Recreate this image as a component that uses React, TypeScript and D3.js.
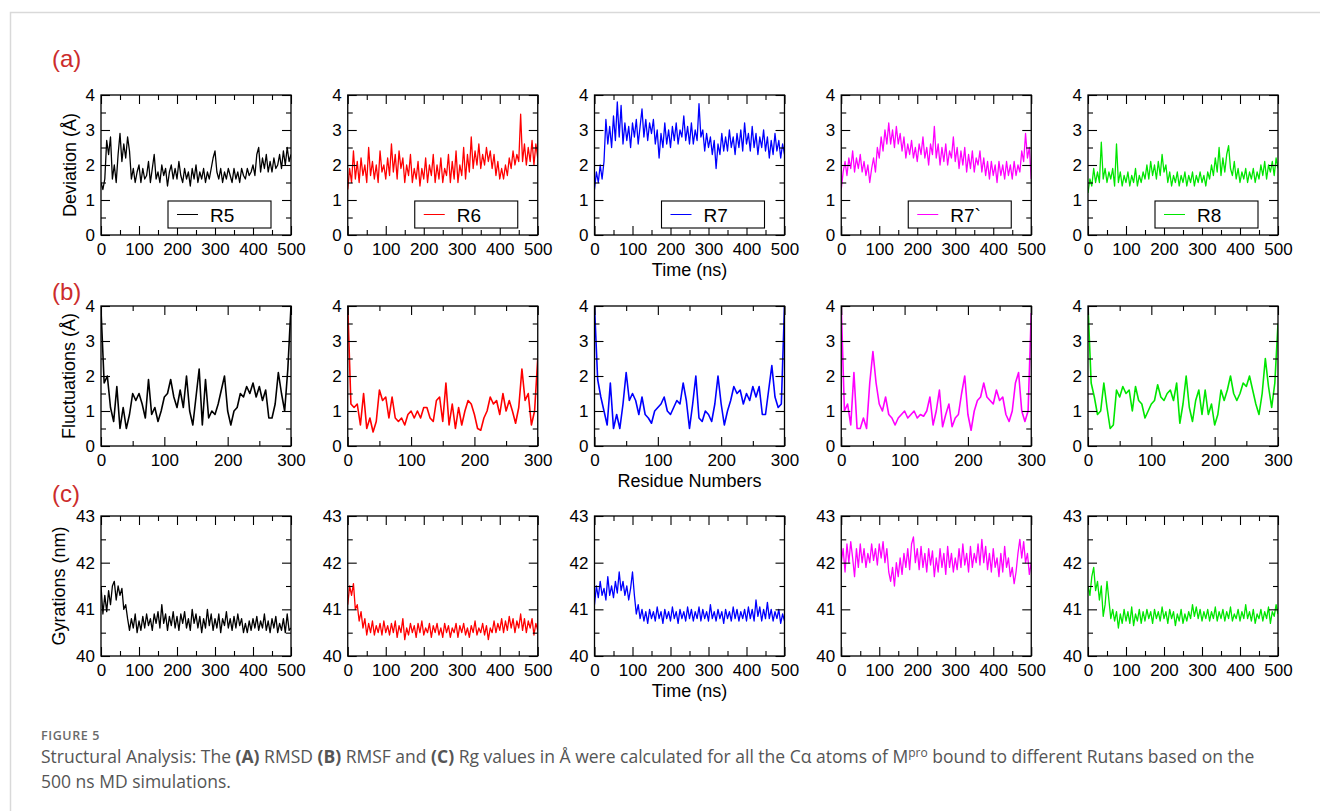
import * as d3 from "d3";
import React, { useEffect, useRef } from "react";

const ligands = ["R5", "R6", "R7", "R7`", "R8"];
const colors = ["#000000", "#ff0000", "#0000ff", "#ff00ff", "#00e600"];

// RMSD (Å), one value every 5 ns, 0..500 ns
const rmsdR5 = [
  1.5, 1.3, 1.6, 2.7, 2.3, 2.8, 1.6, 2.0, 1.5, 2.3,
  2.9, 2.1, 2.6, 2.2, 2.8, 2.4, 1.6, 1.9, 1.5, 1.8,
  2.0, 1.5, 1.9, 1.6, 1.7, 2.1, 1.5, 1.9, 2.3, 1.6,
  1.8, 1.5, 2.0, 1.7, 1.9, 1.4, 1.8, 2.0, 1.6, 1.9,
  1.6, 2.1, 1.7, 1.5, 1.9, 1.6, 1.8, 1.4, 1.9, 1.6,
  2.0, 1.5, 1.8, 1.6, 1.9, 1.5, 1.8, 1.6, 1.9, 2.2,
  2.4, 1.8, 1.6, 1.9, 1.5, 1.8, 1.6, 1.9, 1.7, 1.5,
  1.9, 1.6, 1.8, 1.5, 1.9, 1.7, 1.6, 1.9, 1.7, 1.8,
  2.0, 1.7, 2.3, 2.5, 1.8, 2.2, 1.9, 2.3, 1.8, 2.1,
  1.8, 2.2, 1.9, 2.0, 2.3, 1.9, 2.4, 2.0, 2.5, 2.1,
  2.3,
];
const rmsdR6 = [
  1.3, 1.9, 1.5, 2.4, 1.6, 2.1, 1.5, 2.2, 1.7, 2.0,
  1.5, 2.5, 1.7, 2.1, 1.6, 2.0, 1.5, 2.4, 1.8, 2.0,
  1.6, 2.2, 1.7, 2.6, 1.8, 2.3, 1.6, 2.4, 1.9, 2.2,
  1.5, 2.0, 1.7, 2.3, 1.5, 1.9, 1.6, 2.1, 1.4, 1.9,
  1.6, 2.2, 1.5, 2.0, 1.7, 2.3, 1.5, 2.0, 1.6, 2.2,
  1.5, 1.9, 1.7, 2.3, 1.5, 2.1, 1.6, 2.4, 1.5, 2.0,
  1.7, 2.5, 1.6, 2.3, 1.8, 2.8, 1.9, 2.4, 2.0, 2.6,
  1.9, 2.3, 2.0, 2.5, 2.1, 2.4, 1.9, 2.3, 1.7, 2.1,
  1.6, 1.9, 1.6, 2.0, 1.7, 2.2, 1.9, 2.4, 2.0, 2.3,
  2.1, 3.45, 2.1, 2.6, 2.0, 2.5, 2.1, 2.7, 2.0, 2.6,
  2.2,
];
const rmsdR7 = [
  1.3, 1.8, 1.5, 2.0, 1.6, 2.1, 3.3, 2.6, 3.1, 2.5,
  3.4, 2.7, 3.8, 2.8, 3.7, 2.6, 3.2, 2.7, 3.1, 2.5,
  3.2, 2.8, 3.3, 2.6, 3.1, 3.6, 2.8, 3.3, 2.7, 3.2,
  2.9, 3.3, 2.6, 3.0, 2.2, 2.9, 2.5, 3.2, 2.6, 3.0,
  2.5, 3.1, 2.7, 3.2, 2.6, 3.0, 2.8, 3.4, 2.7, 3.1,
  2.6, 3.2, 2.6, 3.0, 2.7, 3.75, 2.8, 3.0, 2.4, 2.9,
  2.5, 2.8, 2.3, 2.7, 1.9, 2.6, 2.3, 2.9, 2.4, 2.8,
  2.4, 3.0, 2.5, 2.8, 2.3, 2.9, 2.5, 3.0, 2.4, 3.2,
  2.6, 2.9, 2.4, 3.1, 2.5, 2.9, 2.3, 2.8, 2.5, 3.0,
  2.4, 2.8, 2.2, 2.7, 2.3, 2.9, 2.4, 2.7, 2.2, 2.6,
  2.3,
];
const rmsdR7b = [
  1.3, 1.8, 2.1, 1.7, 2.2, 1.9, 2.4, 1.8, 2.2, 1.9,
  2.3, 1.8, 2.1, 1.7, 2.0, 1.5, 1.9, 2.2, 1.8, 2.5,
  2.2, 2.8, 2.4, 3.0, 2.6, 3.2, 2.6, 3.0, 2.5, 3.1,
  2.6, 2.9, 2.4, 2.8, 2.2, 2.6, 2.3, 2.7, 2.2, 2.5,
  2.1, 2.6, 2.3, 2.8, 2.2, 2.5, 2.0, 2.6, 2.3, 3.1,
  2.2, 2.6, 2.0, 2.5, 2.1, 2.6, 2.0, 2.4, 2.2, 2.8,
  2.1, 2.5, 1.9, 2.4, 2.0, 2.5, 1.8, 2.3, 1.9, 2.4,
  1.8, 2.2, 2.0, 2.4, 1.8, 2.2, 1.7, 2.1, 1.6, 2.1,
  1.7, 2.0, 1.5, 2.1, 1.7, 2.0, 1.6, 2.1, 1.7, 2.0,
  1.6, 2.1, 1.7, 2.0, 1.8, 2.4, 2.1, 2.9, 2.2, 2.5,
  1.6,
];
const rmsdR8 = [
  1.2, 1.6, 1.4, 1.9, 1.5, 1.8, 1.5, 2.65, 1.6, 1.9,
  1.5, 1.8, 1.6, 1.9, 1.4, 2.6, 1.5, 1.8, 1.4, 1.7,
  1.5, 1.8, 1.4, 1.7, 1.5, 1.9, 1.4, 1.7, 1.5, 1.8,
  1.6, 2.0, 1.6, 2.1, 1.7, 2.0, 1.6, 2.1, 1.7, 2.3,
  1.8, 2.0, 1.5, 1.8, 1.4, 1.7, 1.5, 1.8, 1.4, 1.7,
  1.5, 1.8, 1.4, 1.7, 1.5, 1.8, 1.4, 1.7, 1.5, 1.8,
  1.5, 1.7, 1.4, 1.8, 1.6, 2.0, 1.7, 2.2, 1.8, 2.5,
  1.7, 2.2, 1.8, 2.3, 2.55, 1.9, 1.7, 2.1, 1.6, 1.9,
  1.5, 1.8, 1.6, 1.9, 1.5, 1.8, 1.6, 1.9, 1.5, 1.8,
  1.6, 2.0, 1.7, 2.1, 1.6, 2.0, 1.8, 2.1, 1.7, 2.2,
  1.9,
];

// RMSF (Å), one value every 5 residues, 0..300
const rmsfR5 = [
  3.9, 1.8, 2.0, 1.1, 0.7, 1.7, 0.5, 1.1, 0.5, 0.9,
  1.5, 1.3, 1.5, 1.2, 0.8, 1.9, 0.9, 1.1, 0.7, 1.0,
  1.4, 1.5, 1.9, 1.4, 1.1, 1.6, 1.1, 2.0, 1.0, 0.6,
  1.4, 2.2, 0.6, 1.9, 0.8, 1.0, 0.9, 1.2, 1.6, 2.0,
  1.0, 0.6, 1.0, 1.1, 1.5, 1.4, 1.7, 1.5, 1.8, 1.4,
  1.7, 1.3, 1.6, 0.8, 0.8, 1.2, 2.1, 1.5, 1.0, 2.2,
  4.0,
];
const rmsfR6 = [
  4.0, 1.2, 1.1, 1.2, 0.6, 1.5, 0.5, 0.8, 0.4, 0.7,
  1.6, 1.3, 1.4, 0.8, 1.4, 0.8, 0.7, 0.8, 0.6, 0.9,
  1.0, 0.8, 1.0, 0.8, 1.1, 1.1, 0.8, 0.7, 1.3, 1.4,
  0.7, 1.8, 0.6, 1.2, 0.5, 1.1, 0.6, 1.0, 1.3, 1.2,
  0.9, 0.5, 0.45, 0.8, 1.0, 1.4, 1.2, 1.3, 0.9, 1.5,
  1.0, 1.3, 1.0, 0.65, 1.1, 2.2, 1.3, 1.5, 0.6, 1.0,
  2.5,
];
const rmsfR7 = [
  4.0, 1.9, 1.4, 1.0, 0.6, 1.8, 0.5, 0.9, 0.5, 1.2,
  2.1, 1.3, 1.5, 1.3, 0.9, 1.4, 0.9, 0.8, 0.65, 1.0,
  1.1, 1.2, 1.4, 1.0, 0.9, 1.1, 1.3, 1.2, 1.8, 1.3,
  0.5, 1.2, 2.0, 0.8, 0.7, 1.0, 0.9, 0.7, 1.2, 2.0,
  1.2, 0.6, 1.0, 1.3, 1.7, 1.5, 1.6, 1.2, 1.5, 1.3,
  1.7, 1.4, 1.7, 0.9, 0.9, 1.6, 2.3, 1.4, 1.1, 1.2,
  4.0,
];
const rmsfR7b = [
  4.0, 1.0, 1.2, 0.6, 2.1, 0.5, 0.5, 0.8, 0.5, 1.8,
  2.7, 1.8, 1.2, 1.0, 1.4, 0.9, 0.8, 0.6, 0.8, 0.9,
  1.0, 0.8, 0.9, 1.0, 0.8, 0.9, 0.85, 1.0, 1.4, 0.6,
  1.0, 1.6, 0.55, 0.9, 1.2, 0.55, 0.8, 0.9, 1.5, 2.0,
  0.9, 0.45, 1.0, 1.3, 1.4, 1.8, 1.4, 1.3, 1.2, 1.6,
  1.3, 1.4, 0.9, 0.7, 1.0, 1.8, 2.1, 1.0, 0.7, 1.0,
  3.8,
];
const rmsfR8 = [
  4.0, 1.8, 1.4, 0.9, 1.0, 1.8, 1.1, 0.5, 0.6, 1.6,
  1.4, 1.7, 1.5, 1.6, 1.0, 1.7, 1.3, 1.2, 0.8, 1.0,
  1.2, 1.3, 1.75, 1.4, 1.3, 1.5, 1.6, 1.3, 1.8, 0.65,
  1.2, 2.0, 1.1, 0.7, 1.3, 1.6, 0.9, 1.6, 0.9, 1.2,
  0.6, 0.9, 1.6, 1.3, 1.6, 2.0, 1.5, 1.3, 1.5, 1.8,
  1.7, 2.0, 1.6, 1.2, 0.9, 1.5, 2.5, 1.7, 1.1, 1.8,
  3.5,
];

// Radius of gyration, one value every 5 ns, 0..500 ns
const rgR5 = [
  41.5, 40.9, 41.3, 40.95, 41.4, 41.1, 41.5, 41.6, 41.2, 41.5,
  41.3, 41.45, 41.0, 41.1, 40.8, 40.55, 40.8, 40.6, 40.9, 40.5,
  40.75, 40.55, 40.85, 40.6, 40.9, 40.65, 40.8, 40.55, 40.9, 40.7,
  40.95, 40.6, 41.1, 40.7, 40.9, 40.55, 40.85, 40.65, 40.95, 40.6,
  40.85, 40.55, 40.9, 40.7, 40.95, 40.6, 40.8, 40.55, 41.0, 40.7,
  40.9, 40.6, 40.85, 40.5, 40.8, 40.6, 41.0, 40.65, 40.9, 40.55,
  40.8, 40.6, 40.9, 40.5, 40.8, 40.65, 40.95, 40.6, 40.8, 40.55,
  40.85, 40.6, 40.9, 40.65, 40.8, 40.5, 40.7, 40.5, 40.75, 40.55,
  40.8, 40.6, 40.85, 40.55, 40.75, 40.6, 40.9, 40.55, 40.75, 40.5,
  40.8, 40.6, 40.85, 40.5, 40.7, 40.55, 40.8, 40.5, 40.9, 40.55,
  40.6,
];
const rgR6 = [
  41.1, 41.5, 41.3, 41.55, 41.0, 41.1, 40.75, 40.95, 40.6, 40.8,
  40.45, 40.7, 40.5, 40.75, 40.45, 40.65, 40.5, 40.7, 40.45, 40.75,
  40.5, 40.65, 40.45, 40.7, 40.5, 40.75, 40.4, 40.65, 40.5, 40.8,
  40.35, 40.6, 40.45, 40.7, 40.5, 40.65, 40.4, 40.7, 40.5, 40.75,
  40.45, 40.6, 40.5, 40.7, 40.4, 40.65, 40.5, 40.7, 40.45, 40.6,
  40.4, 40.7, 40.5, 40.65, 40.4, 40.6, 40.5, 40.7, 40.4, 40.65,
  40.5, 40.7, 40.45, 40.6, 40.4, 40.65, 40.5, 40.75, 40.45, 40.6,
  40.5, 40.7, 40.45, 40.65, 40.35, 40.6, 40.5, 40.75, 40.5, 40.7,
  40.55, 40.8, 40.5, 40.75, 40.55, 40.85, 40.6, 40.8, 40.5, 40.75,
  40.6, 40.9, 40.55, 40.8, 40.5, 40.75, 40.6, 40.8, 40.45, 40.7,
  40.55,
];
const rgR7 = [
  41.1, 41.5, 41.25, 41.6, 41.3, 41.45, 41.2, 41.7, 41.3, 41.5,
  41.25, 41.6, 41.35, 41.8, 41.4, 41.6, 41.3, 41.5, 41.2, 41.45,
  41.8, 41.3, 40.9, 41.1, 40.8, 41.0, 40.75, 40.95, 40.7, 41.0,
  40.8, 40.95, 40.75, 41.05, 40.8, 40.95, 40.7, 41.0, 40.8, 40.95,
  40.75, 41.05, 40.8, 40.95, 40.7, 41.0, 40.8, 40.95, 40.75, 41.05,
  40.8, 41.0, 40.75, 40.95, 40.8, 41.05, 40.75, 41.0, 40.8, 40.95,
  40.75, 41.1, 40.8, 40.95, 40.75, 41.0, 40.8, 40.95, 40.7, 41.0,
  40.8, 40.95, 40.75, 41.05, 40.8, 41.0, 40.75, 40.95, 40.8, 41.0,
  40.75, 41.05, 40.8, 41.0, 40.75, 41.2, 40.85, 41.05, 40.75, 41.0,
  40.8, 41.15, 40.8, 41.0, 40.75, 40.95, 40.8, 41.0, 40.7, 40.9,
  40.75,
];
const rgR7b = [
  42.0, 42.3, 41.8, 42.4, 42.0, 42.45, 42.1, 41.7, 42.3, 41.9,
  42.4, 42.0, 42.3, 41.9, 42.2, 42.0, 42.4, 42.05, 42.3, 41.95,
  42.4, 42.1, 42.45, 42.0, 42.3, 41.8, 41.6, 41.9, 41.5, 42.0,
  41.7, 42.1, 41.75, 42.2, 41.9, 42.3, 41.85, 42.4, 42.55, 42.0,
  42.3, 41.85, 42.35, 41.9, 42.2, 41.8, 42.3, 41.95, 42.25, 41.7,
  42.1, 41.8, 42.3, 41.9, 42.2, 41.75, 42.35, 41.9, 42.2, 41.8,
  42.1, 41.85, 42.3, 41.9, 42.4, 41.95, 42.2, 41.8, 42.35, 41.9,
  42.2, 42.0, 42.4, 41.95, 42.5, 42.0, 42.35, 41.85, 42.2, 41.8,
  42.3, 41.9, 42.1, 41.7, 42.2, 41.8, 42.35, 41.9, 42.1, 41.7,
  41.9, 41.55, 41.8, 42.2, 42.5, 42.1, 42.45, 42.0, 42.2, 41.75,
  42.0,
];
const rgR8 = [
  41.5, 41.3, 41.7, 41.9, 41.4, 41.6, 41.2, 41.5, 40.85, 41.1,
  41.6, 41.2, 40.8, 41.0, 40.75, 40.95, 40.6, 40.9, 40.7, 41.0,
  40.75, 40.95, 40.7, 41.05, 40.65, 40.9, 40.75, 41.0, 40.7, 40.95,
  40.75, 41.0, 40.8, 40.95, 40.7, 41.0, 40.8, 40.95, 40.75, 41.05,
  40.8, 40.95, 40.7, 41.0, 40.8, 40.95, 40.65, 40.9, 40.75, 41.0,
  40.7, 40.9, 40.75, 40.95, 40.8, 41.1, 40.85, 41.05, 40.8, 41.0,
  40.75, 40.95, 40.8, 41.0, 40.75, 40.95, 40.8, 41.05, 40.75, 40.95,
  40.8, 41.0, 40.75, 40.95, 40.8, 41.05, 40.75, 40.9, 40.8, 41.0,
  40.75, 40.95, 40.8, 41.1, 40.8, 40.95, 40.75, 41.0, 40.7, 40.9,
  40.8, 41.0, 40.75, 40.95, 40.8, 41.05, 40.7, 40.95, 40.85, 41.1,
  40.9,
];

const timeTicks = [0, 100, 200, 300, 400, 500];
const residueTicks = [0, 100, 200, 300];
const angstromTicks = [0, 1, 2, 3, 4];
const gyrationTicks = [40, 41, 42, 43];

const W = 1320;
const H = 811;
const PLOT_W = 190;
const PLOT_H = 140;
const PANEL_X0 = 101;
const PANEL_DX = 246.75;
const AXIS_FONT = "'Liberation Sans', Arial, Helvetica, sans-serif";
const CAPTION_FONT = "'Open Sans', 'Noto Sans', sans-serif";

const rows = [
  {
    tag: "(a)", tagY: 67, top: 95,
    yTitle: "Deviation (Å)", yTitleX: 76, xTitle: "Time (ns)",
    series: [rmsdR5, rmsdR6, rmsdR7, rmsdR7b, rmsdR8], step: 5, lineW: 1.3,
    xDomain: [0, 500], xTicks: timeTicks, xMinor: 50,
    yDomain: [0, 4], yTicks: angstromTicks, yMinor: 0.5,
    legend: true,
  },
  {
    tag: "(b)", tagY: 300, top: 306,
    yTitle: "Fluctuations (Å)", yTitleX: 75, xTitle: "Residue Numbers",
    series: [rmsfR5, rmsfR6, rmsfR7, rmsfR7b, rmsfR8], step: 5, lineW: 1.6,
    xDomain: [0, 300], xTicks: residueTicks, xMinor: 50,
    yDomain: [0, 4], yTicks: angstromTicks, yMinor: 0.5,
    legend: false,
  },
  {
    tag: "(c)", tagY: 502, top: 516,
    yTitle: "Gyrations (nm)", yTitleX: 65, xTitle: "Time (ns)",
    series: [rgR5, rgR6, rgR7, rgR7b, rgR8], step: 5, lineW: 1.3,
    xDomain: [0, 500], xTicks: timeTicks, xMinor: 50,
    yDomain: [40, 43], yTicks: gyrationTicks, yMinor: 0.5,
    legend: false,
  },
];

const App = () => {
  const svgRef = useRef<SVGSVGElement | null>(null);

  useEffect(() => {
    const svg = d3.select(svgRef.current);
    svg.selectAll("*").remove();

    // page frame (left + top rule)
    svg
      .append("path")
      .attr("d", `M10.5,${H} V12.5 H${W}`)
      .attr("fill", "none")
      .attr("stroke", "#d9d9d9")
      .attr("stroke-width", 1.5);

    rows.forEach((row, ri) => {
      svg
        .append("text")
        .attr("x", 52)
        .attr("y", row.tagY)
        .attr("fill", "#cc2c2c")
        .attr("font-family", AXIS_FONT)
        .attr("font-size", 24)
        .text(row.tag);

      svg
        .append("text")
        .attr("transform", `translate(${row.yTitleX},${row.top + PLOT_H / 2}) rotate(-90)`)
        .attr("text-anchor", "middle")
        .attr("font-family", AXIS_FONT)
        .attr("font-size", 18)
        .text(row.yTitle);

      svg
        .append("text")
        .attr("x", PANEL_X0 + 2 * PANEL_DX + PLOT_W / 2)
        .attr("y", row.top + PLOT_H + 41)
        .attr("text-anchor", "middle")
        .attr("font-family", AXIS_FONT)
        .attr("font-size", 18)
        .text(row.xTitle);

      const x = d3.scaleLinear().domain(row.xDomain).range([0, PLOT_W]);
      const y = d3.scaleLinear().domain(row.yDomain).range([PLOT_H, 0]);
      const xMinor = d3
        .range(row.xDomain[0], row.xDomain[1], row.xMinor)
        .filter((v) => !row.xTicks.includes(v));
      const yMinor = d3
        .range(row.yDomain[0], row.yDomain[1], row.yMinor)
        .filter((v) => !row.yTicks.includes(v));
      const noLabel = () => "";
      const intLabel = d3.format("d");

      row.series.forEach((values, i) => {
        const g = svg
          .append("g")
          .attr("transform", `translate(${PANEL_X0 + i * PANEL_DX},${row.top})`);

        const clipId = `clip-${ri}-${i}`;
        g.append("clipPath")
          .attr("id", clipId)
          .append("rect")
          .attr("width", PLOT_W)
          .attr("height", PLOT_H);

        const line = d3
          .line<number>()
          .x((_, k) => x(k * row.step))
          .y((d) => y(d));

        g.append("path")
          .datum(values)
          .attr("fill", "none")
          .attr("stroke", colors[i])
          .attr("stroke-width", row.lineW)
          .attr("stroke-linejoin", "round")
          .attr("clip-path", `url(#${clipId})`)
          .attr("d", line);

        // inward ticks on all four sides (xmgrace style)
        const axes: [any, string][] = [
          [d3.axisBottom(x).tickValues(row.xTicks).tickSize(-9).tickPadding(8).tickFormat(intLabel), `translate(0,${PLOT_H})`],
          [d3.axisBottom(x).tickValues(xMinor).tickSize(-5).tickFormat(noLabel), `translate(0,${PLOT_H})`],
          [d3.axisTop(x).tickValues(row.xTicks).tickSize(-9).tickFormat(noLabel), "translate(0,0)"],
          [d3.axisTop(x).tickValues(xMinor).tickSize(-5).tickFormat(noLabel), "translate(0,0)"],
          [d3.axisLeft(y).tickValues(row.yTicks).tickSize(-9).tickPadding(6).tickFormat(intLabel), "translate(0,0)"],
          [d3.axisLeft(y).tickValues(yMinor).tickSize(-5).tickFormat(noLabel), "translate(0,0)"],
          [d3.axisRight(y).tickValues(row.yTicks).tickSize(-9).tickFormat(noLabel), `translate(${PLOT_W},0)`],
          [d3.axisRight(y).tickValues(yMinor).tickSize(-5).tickFormat(noLabel), `translate(${PLOT_W},0)`],
        ];
        axes.forEach(([axis, tr]) => {
          const a = g.append("g").attr("transform", tr).call(axis);
          a.select(".domain").remove();
          a.selectAll("line").attr("stroke", "#000").attr("stroke-width", 1.1);
          a.selectAll("text")
            .attr("fill", "#000")
            .attr("font-family", AXIS_FONT)
            .attr("font-size", 17);
        });

        g.append("rect")
          .attr("width", PLOT_W)
          .attr("height", PLOT_H)
          .attr("fill", "none")
          .attr("stroke", "#000")
          .attr("stroke-width", 1.3);

        if (row.legend) {
          const lg = g.append("g").attr("transform", "translate(67,106)");
          lg.append("rect")
            .attr("width", 103)
            .attr("height", 27)
            .attr("fill", "#fff")
            .attr("stroke", "#000")
            .attr("stroke-width", 1.1);
          lg.append("line")
            .attr("x1", 9)
            .attr("x2", 30)
            .attr("y1", 13.5)
            .attr("y2", 13.5)
            .attr("stroke", colors[i])
            .attr("stroke-width", 1);
          lg.append("text")
            .attr("x", 42)
            .attr("y", 20.5)
            .attr("font-family", AXIS_FONT)
            .attr("font-size", 19)
            .text(ligands[i]);
        }
      });
    });

    // caption
    svg
      .append("text")
      .attr("x", 41)
      .attr("y", 740)
      .attr("font-family", CAPTION_FONT)
      .attr("font-size", 12.5)
      .attr("letter-spacing", 0.6)
      .attr("font-weight", 600)
      .attr("fill", "#6a6a6a")
      .text("FIGURE 5");

    const cap = svg
      .append("text")
      .attr("x", 41)
      .attr("y", 763)
      .attr("font-family", CAPTION_FONT)
      .attr("font-size", 17.5)
      .attr("fill", "#555");
    const parts: [string, boolean][] = [
      ["Structural Analysis: The ", false],
      ["(A)", true],
      [" RMSD ", false],
      ["(B)", true],
      [" RMSF and ", false],
      ["(C)", true],
      [" Rg values in Å were calculated for all the Cα atoms of M", false],
    ];
    parts.forEach(([t, b]) => {
      cap.append("tspan").attr("font-weight", b ? 700 : 400).text(t);
    });
    cap.append("tspan").attr("font-size", 12).attr("dy", -6).text("pro");
    cap.append("tspan").attr("dy", 6).text(" bound to different Rutans based on the");

    svg
      .append("text")
      .attr("x", 41)
      .attr("y", 788)
      .attr("font-family", CAPTION_FONT)
      .attr("font-size", 17.5)
      .attr("fill", "#555")
      .text("500 ns MD simulations.");
  }, []);

  return (
    <svg
      ref={svgRef}
      width={W}
      height={H}
      style={{ position: "absolute", left: 0, top: 0, background: "#fff" }}
    ></svg>
  );
};

export default App;
